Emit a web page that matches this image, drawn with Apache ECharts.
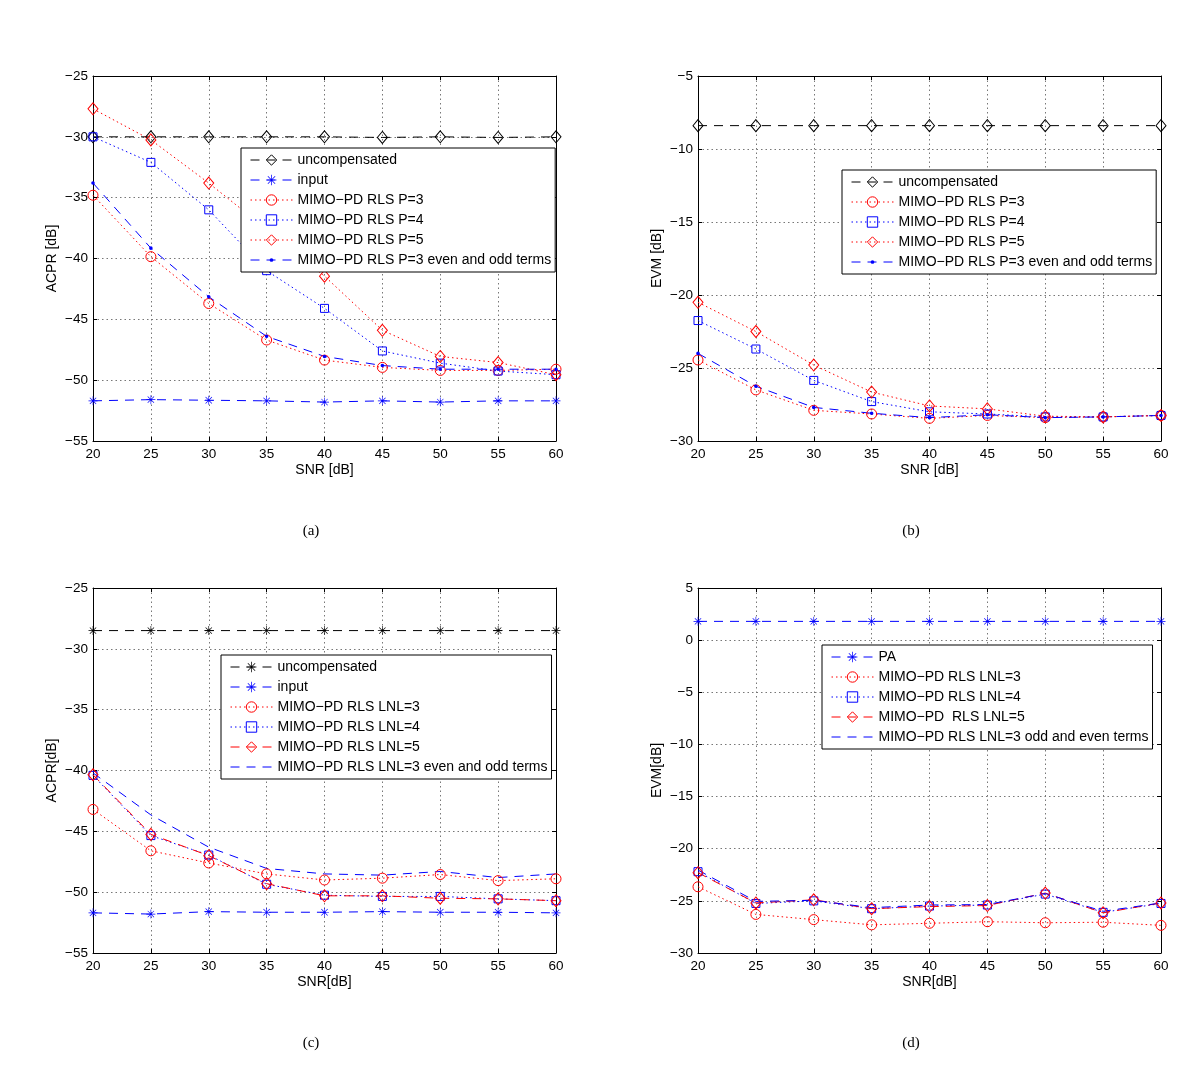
<!DOCTYPE html>
<html><head><meta charset="utf-8">
<script src="https://cdn.jsdelivr.net/npm/echarts@6/dist/echarts.min.js"></script>
<style>html,body{margin:0;padding:0;background:#fff}#c{width:1200px;height:1075px}</style>
</head><body><div id="c"></div>
<script>
// ---------- data ----------
const snr = [20, 25, 30, 35, 40, 45, 50, 55, 60];

// (a) ACPR vs SNR, polynomial order P
const a_uncomp = [-30, -30, -30, -30, -30, -30.05, -30, -30.05, -30];
const a_input  = [-51.7, -51.6, -51.65, -51.7, -51.8, -51.7, -51.8, -51.7, -51.7];
const a_p3     = [-34.8, -39.85, -43.7, -46.7, -48.35, -48.95, -49.2, -49.2, -49.1];
const a_p4     = [-30.0, -32.1, -36.0, -41.0, -44.1, -47.6, -48.6, -49.25, -49.55];
const a_p5     = [-27.7, -30.25, -33.8, -37.6, -41.45, -45.9, -48.05, -48.55, -49.55];
const a_eo     = [-33.8, -39.15, -43.15, -46.4, -48.05, -48.8, -49.1, -49.1, -49.1];

// (b) EVM vs SNR, polynomial order P
const b_uncomp = [-8.4, -8.4, -8.4, -8.4, -8.4, -8.4, -8.4, -8.4, -8.4];
const b_p3     = [-24.45, -26.5, -27.9, -28.15, -28.45, -28.25, -28.4, -28.35, -28.25];
const b_p4     = [-21.75, -23.7, -25.85, -27.3, -28.0, -28.15, -28.35, -28.35, -28.25];
const b_p5     = [-20.5, -22.5, -24.8, -26.65, -27.6, -27.8, -28.3, -28.35, -28.25];
const b_eo     = [-24.0, -26.25, -27.7, -28.1, -28.4, -28.2, -28.4, -28.35, -28.25];

// (c) ACPR vs SNR, nonlinear memory length LNL
const c_uncomp = [-28.5, -28.5, -28.5, -28.5, -28.5, -28.5, -28.5, -28.5, -28.5];
const c_input  = [-51.7, -51.8, -51.6, -51.65, -51.65, -51.6, -51.65, -51.65, -51.7];
const c_l3     = [-43.2, -46.6, -47.6, -48.5, -49.0, -48.85, -48.55, -49.05, -48.9];
const c_l4     = [-40.4, -45.35, -46.95, -49.35, -50.25, -50.35, -50.35, -50.55, -50.7];
const c_l5     = [-40.35, -45.25, -47.0, -49.3, -50.3, -50.3, -50.5, -50.55, -50.7];
const c_eo     = [-40.2, -43.65, -46.3, -48.05, -48.5, -48.6, -48.3, -48.8, -48.5];

// (d) EVM vs SNR, nonlinear memory length LNL
const d_pa     = [1.8, 1.8, 1.8, 1.8, 1.8, 1.8, 1.8, 1.8, 1.8];
const d_l3     = [-23.65, -26.3, -26.8, -27.3, -27.15, -27.0, -27.1, -27.05, -27.35];
const d_l4     = [-22.2, -25.25, -25.0, -25.75, -25.5, -25.4, -24.35, -26.1, -25.25];
const d_l5     = [-22.3, -25.2, -24.9, -25.75, -25.55, -25.45, -24.25, -26.15, -25.2];
const d_eo     = [-22.05, -25.05, -24.95, -25.65, -25.4, -25.35, -24.3, -26.0, -25.2];

// axis ranges and texts
const yRanges  = [[-55, -25], [-30, -5], [-55, -25], [-30, 5]];
const yNames   = ['ACPR [dB]', 'EVM [dB]', 'ACPR[dB]', 'EVM[dB]'];
const xNames   = ['SNR [dB]', 'SNR [dB]', 'SNR[dB]', 'SNR[dB]'];
const captions = ['(a)', '(b)', '(c)', '(d)'];

// ---------- styling ----------
const FONT = '"Liberation Sans", Arial, Helvetica, sans-serif';
const K = '#000000', B = '#0000ff', R = '#ff0000';
const DASH = [9, 7], DOT = [1.5, 3];
const STAR = 'path://M9.3 0L10.7 0L10.7 20L9.3 20Z M0 9.3L20 9.3L20 10.7L0 10.7Z M2.43 3.43L3.43 2.43L17.57 16.57L16.57 17.57Z M16.57 2.43L17.57 3.43L3.43 17.57L2.43 16.57Z';
const DOTMARK = 'path://M0 0L0.01 0L0.01 0.01Z M20 20L19.99 20L19.99 19.99Z M13.6 10A3.6 3.6 0 1 1 6.4 10A3.6 3.6 0 1 1 13.6 10Z';
const NOMARK = 'path://M0 0L0.01 0L0.01 0.01Z M20 20L19.99 20L19.99 19.99Z';

const grids = [
  {left: 93,  top: 76,  width: 463, height: 365},
  {left: 698, top: 76,  width: 463, height: 365},
  {left: 93,  top: 588, width: 463, height: 365},
  {left: 698, top: 588, width: 463, height: 365}
];

function S(id, label, gi, vals, color, dash, symbol, size, filled) {
  const none = symbol === NOMARK;
  return {
    type: 'line', name: id + '|' + label, xAxisIndex: gi, yAxisIndex: gi,
    data: snr.map((x, i) => [x, vals[i]]),
    symbol: symbol, symbolSize: size, showSymbol: !none,
    lineStyle: {color: color, width: 1, type: dash},
    itemStyle: {color: (filled && !none) ? color : 'rgba(255,255,255,0)', borderColor: none ? 'rgba(255,255,255,0)' : color, borderWidth: filled ? 0 : 1},
    emphasis: {disabled: true}, animation: false
  };
}

const series = [
  S('a1', 'uncompensated', 0, a_uncomp, K, DASH, 'diamond', [10, 12], false),
  S('a2', 'input', 0, a_input, B, DASH, STAR, 9, true),
  S('a3', 'MIMO\u2212PD RLS P=3', 0, a_p3, R, DOT, 'circle', 10, false),
  S('a4', 'MIMO\u2212PD RLS P=4', 0, a_p4, B, DOT, 'rect', 8, false),
  S('a5', 'MIMO\u2212PD RLS P=5', 0, a_p5, R, DOT, 'diamond', [10, 12], false),
  S('a6', 'MIMO\u2212PD RLS P=3 even and odd terms', 0, a_eo, B, DASH, DOTMARK, 10, true),

  S('b1', 'uncompensated', 1, b_uncomp, K, DASH, 'diamond', [10, 12], false),
  S('b3', 'MIMO\u2212PD RLS P=3', 1, b_p3, R, DOT, 'circle', 10, false),
  S('b4', 'MIMO\u2212PD RLS P=4', 1, b_p4, B, DOT, 'rect', 8, false),
  S('b5', 'MIMO\u2212PD RLS P=5', 1, b_p5, R, DOT, 'diamond', [10, 12], false),
  S('b6', 'MIMO\u2212PD RLS P=3 even and odd terms', 1, b_eo, B, DASH, DOTMARK, 10, true),

  S('c1', 'uncompensated', 2, c_uncomp, K, DASH, STAR, 9, true),
  S('c2', 'input', 2, c_input, B, DASH, STAR, 9, true),
  S('c3', 'MIMO\u2212PD RLS LNL=3', 2, c_l3, R, DOT, 'circle', 10, false),
  S('c4', 'MIMO\u2212PD RLS LNL=4', 2, c_l4, B, DOT, 'rect', 8, false),
  S('c5', 'MIMO\u2212PD RLS LNL=5', 2, c_l5, R, DASH, 'diamond', [10, 12], false),
  S('c6', 'MIMO\u2212PD RLS LNL=3 even and odd terms', 2, c_eo, B, DASH, NOMARK, 10, true),

  S('d1', 'PA', 3, d_pa, B, DASH, STAR, 9, true),
  S('d3', 'MIMO\u2212PD RLS LNL=3', 3, d_l3, R, DOT, 'circle', 10, false),
  S('d4', 'MIMO\u2212PD RLS LNL=4', 3, d_l4, B, DOT, 'rect', 8, false),
  S('d5', 'MIMO\u2212PD  RLS LNL=5', 3, d_l5, R, DASH, 'diamond', [10, 12], false),
  S('d6', 'MIMO\u2212PD RLS LNL=3 odd and even terms', 3, d_eo, B, DASH, NOMARK, 10, true)
];

const minus = v => String(v).replace('-', '\u2212');
const axisLineStyle = {show: true, onZero: false, lineStyle: {color: K, width: 1}};
const tickStyle = {show: true, inside: true, length: 4, lineStyle: {color: K}};
const gridLineStyle = {show: true, lineStyle: {color: '#777', type: [1.5, 3], width: 1}};
const xMain = [], xMirror = [], yMain = [], yMirror = [];
grids.forEach((g, i) => {
  xMain.push({
    type: 'value', gridIndex: i, min: 20, max: 60, interval: 5, position: 'bottom',
    name: xNames[i], nameLocation: 'middle', nameGap: 22,
    nameTextStyle: {fontFamily: FONT, fontSize: 14, color: K},
    axisLine: axisLineStyle, axisTick: tickStyle,
    axisLabel: {fontFamily: FONT, fontSize: 13.5, color: K, margin: 6},
    splitLine: gridLineStyle
  });
  xMirror.push({
    type: 'value', gridIndex: i, min: 20, max: 60, interval: 5, position: 'top',
    axisLine: axisLineStyle, axisTick: tickStyle,
    axisLabel: {show: false}, splitLine: {show: false}
  });
  yMain.push({
    type: 'value', gridIndex: i, min: yRanges[i][0], max: yRanges[i][1], interval: 5, position: 'left',
    name: yNames[i], nameLocation: 'middle', nameGap: 34, nameRotate: 90,
    nameTextStyle: {fontFamily: FONT, fontSize: 14, color: K},
    axisLine: axisLineStyle, axisTick: tickStyle,
    axisLabel: {fontFamily: FONT, fontSize: 13.5, color: K, margin: 5, formatter: minus},
    splitLine: gridLineStyle
  });
  yMirror.push({
    type: 'value', gridIndex: i, min: yRanges[i][0], max: yRanges[i][1], interval: 5, position: 'right',
    axisLine: axisLineStyle, axisTick: tickStyle,
    axisLabel: {show: false}, splitLine: {show: false}
  });
});

const legendPos = [
  {left: 241, top: 148}, {left: 842, top: 170},
  {left: 221, top: 655}, {left: 822, top: 645}
];
const prefixes = ['a', 'b', 'c', 'd'];
const legends = legendPos.map((p, i) => ({
  left: p.left, top: p.top, orient: 'vertical',
  data: series.filter(s => s.name[0] === prefixes[i]).map(s => ({
    name: s.name,
    itemStyle: {borderWidth: s.itemStyle.borderWidth},
    lineStyle: {width: 1}
  })),
  formatter: n => n.split('|')[1],
  itemWidth: 42, itemHeight: 13, itemGap: 4,
  padding: [4, 4, 4, 9],
  borderColor: K, borderWidth: 1, backgroundColor: '#fff',
  selectedMode: false,
  textStyle: {fontFamily: FONT, fontSize: 14, lineHeight: 16, color: K}
}));

const graphics = captions.map((t, i) => ({
  type: 'text', x: (i % 2 === 0 ? 311 : 911), y: (i < 2 ? 531 : 1043),
  style: {text: t, font: '15px "Liberation Serif", "Times New Roman", serif', fill: K,
          textAlign: 'center', textVerticalAlign: 'middle'}
}));

const chart = echarts.init(document.getElementById('c'), null, {renderer: 'canvas'});
chart.setOption({
  backgroundColor: '#fff',
  animation: false,
  grid: grids.map(g => Object.assign({show: false}, g)),
  xAxis: xMain.concat(xMirror),
  yAxis: yMain.concat(yMirror),
  legend: legends,
  graphic: graphics,
  series: series
});
</script></body></html>
